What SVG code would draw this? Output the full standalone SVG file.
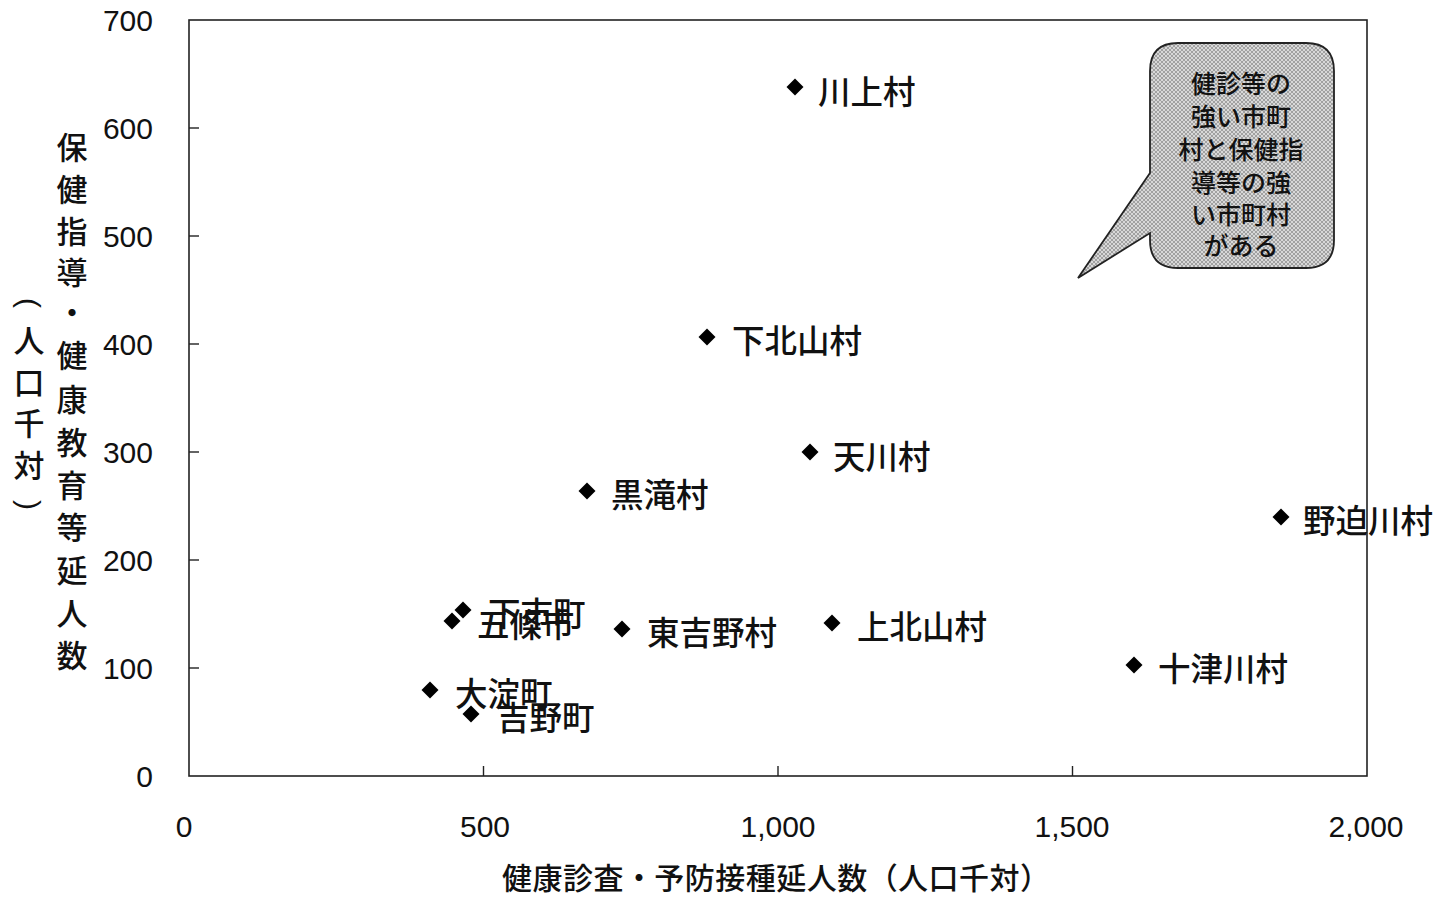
<svg xmlns="http://www.w3.org/2000/svg" xmlns:xlink="http://www.w3.org/1999/xlink" width="1440" height="898" viewBox="0 0 1440 898">
<style>
.num{font-family:"Liberation Sans",Arial,sans-serif;font-size:30px;fill:#111}
.jp{font-family:"Noto Sans CJK JP","Noto Sans CJK SC",sans-serif;fill:#111;font-weight:500}
.lab{font-size:32.5px}
.ax{stroke:#222;stroke-width:1.6;fill:none}
.tk{stroke:#222;stroke-width:1.4}
</style>
<defs>
<path id="dm" d="M0,-8.5 L8.5,0 L0,8.5 L-8.5,0 Z" fill="#000"/>
<pattern id="ht" width="4" height="4" patternUnits="userSpaceOnUse">
<rect width="4" height="4" fill="#d8d8d8"/>
<path d="M0,0 L4,4 M4,0 L0,4" stroke="#8a8a8a" stroke-width="0.7"/>
</pattern>
</defs>
<rect width="1440" height="898" fill="#fff"/>
<g id="plot-frame">
<rect class="ax" x="189" y="20" width="1178" height="756"/>
<line class="tk" x1="189" y1="128" x2="199" y2="128"/>
<line class="tk" x1="189" y1="236" x2="199" y2="236"/>
<line class="tk" x1="189" y1="344" x2="199" y2="344"/>
<line class="tk" x1="189" y1="452" x2="199" y2="452"/>
<line class="tk" x1="189" y1="560" x2="199" y2="560"/>
<line class="tk" x1="189" y1="668" x2="199" y2="668"/>
<line class="tk" x1="483.5" y1="776" x2="483.5" y2="766"/>
<line class="tk" x1="778" y1="776" x2="778" y2="766"/>
<line class="tk" x1="1072.5" y1="776" x2="1072.5" y2="766"/>
</g>
<g id="y-ticks" class="num" text-anchor="end">
<text x="153" y="31">700</text>
<text x="153" y="139">600</text>
<text x="153" y="247">500</text>
<text x="153" y="355">400</text>
<text x="153" y="463">300</text>
<text x="153" y="571">200</text>
<text x="153" y="679">100</text>
<text x="153" y="787">0</text>
</g>
<g id="x-ticks" class="num" text-anchor="middle">
<text x="184" y="837">0</text>
<text x="485" y="837">500</text>
<text x="778" y="837">1,000</text>
<text x="1072" y="837">1,500</text>
<text x="1366" y="837">2,000</text>
</g>
<g id="y-title" class="jp" font-size="31" text-anchor="middle" dominant-baseline="central">
<text x="72" y="145">保</text>
<text x="72" y="187">健</text>
<text x="72" y="229">指</text>
<text x="72" y="270">導</text>
<text x="72" y="310">・</text>
<text x="72" y="353">健</text>
<text x="72" y="397">康</text>
<text x="72" y="440">教</text>
<text x="72" y="483">育</text>
<text x="72" y="525">等</text>
<text x="72" y="568">延</text>
<text x="72" y="611">人</text>
<text x="72" y="653">数</text>
<text x="29" y="338">人</text>
<text x="29" y="380">口</text>
<text x="29" y="421">千</text>
<text x="29" y="463">対</text>
</g>
<g id="y-title-parens" font-family="Liberation Sans, sans-serif" font-size="30" fill="#111" text-anchor="middle" dominant-baseline="central">
<text x="29" y="303" transform="rotate(90 29 303)">(</text>
<text x="29" y="505" transform="rotate(90 29 505)">)</text>
</g>
<g id="x-title" class="jp">
<text x="502" y="889" font-size="30" textLength="548" lengthAdjust="spacing">健康診査・予防接種延人数（人口千対）</text>
</g>
<g id="callout">
<path d="M1178,43 H1306 Q1334,43 1334,71 V240 Q1334,268 1306,268 H1178 Q1150,268 1150,240 V233 L1078,278 L1150,173 V71 Q1150,43 1178,43 Z" fill="url(#ht)" stroke="#222" stroke-width="1.8"/>
<g class="jp" font-size="25" text-anchor="middle" dominant-baseline="central">
<text x="1241" y="82">健診等の</text>
<text x="1241" y="115">強い市町</text>
<text x="1241" y="148">村と保健指</text>
<text x="1241" y="181">導等の強</text>
<text x="1241" y="213">い市町村</text>
<text x="1241" y="244">がある</text>
</g>
</g>
<g id="points">
<g id="p-kawakami"><use xlink:href="#dm" x="795" y="87"/><text class="jp lab" x="818" y="89" dominant-baseline="central">川上村</text></g>
<g id="p-shimokitayama"><use xlink:href="#dm" x="707" y="337"/><text class="jp lab" x="732" y="338" dominant-baseline="central">下北山村</text></g>
<g id="p-tenkawa"><use xlink:href="#dm" x="810" y="452"/><text class="jp lab" x="833" y="454" dominant-baseline="central">天川村</text></g>
<g id="p-kurotaki"><use xlink:href="#dm" x="587" y="491"/><text class="jp lab" x="611" y="492" dominant-baseline="central">黒滝村</text></g>
<g id="p-nosegawa"><use xlink:href="#dm" x="1281" y="517"/><text class="jp lab" x="1303" y="518" dominant-baseline="central">野迫川村</text></g>
<g id="p-shimoichi"><use xlink:href="#dm" x="463" y="610"/><text class="jp lab" x="488" y="611" dominant-baseline="central">下市町</text></g>
<g id="p-gojo"><use xlink:href="#dm" x="452" y="621"/><text class="jp lab" x="477" y="622" dominant-baseline="central">五條市</text></g>
<g id="p-higashiyoshino"><use xlink:href="#dm" x="622" y="629"/><text class="jp lab" x="647" y="630" dominant-baseline="central">東吉野村</text></g>
<g id="p-kamikitayama"><use xlink:href="#dm" x="832" y="623"/><text class="jp lab" x="857" y="624" dominant-baseline="central">上北山村</text></g>
<g id="p-totsukawa"><use xlink:href="#dm" x="1134" y="665"/><text class="jp lab" x="1158" y="666" dominant-baseline="central">十津川村</text></g>
<g id="p-oyodo"><use xlink:href="#dm" x="430" y="690"/><text class="jp lab" x="455" y="691" dominant-baseline="central">大淀町</text></g>
<g id="p-yoshino"><use xlink:href="#dm" x="471" y="714"/><text class="jp lab" x="497" y="715" dominant-baseline="central">吉野町</text></g>
</g>
</svg>
